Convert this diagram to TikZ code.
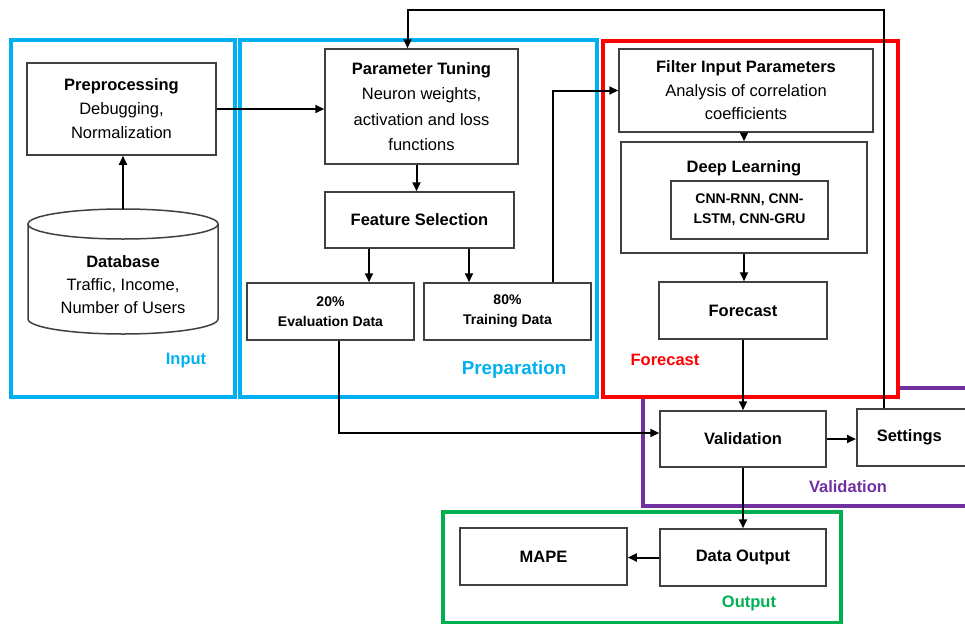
\documentclass[tikz,border=0pt]{standalone}
\usepackage{fontspec}
\setmainfont{Liberation Sans}
\usetikzlibrary{calc, positioning, arrows.meta}

\definecolor{inputblue}{RGB}{0,176,240}
\definecolor{forecastred}{RGB}{255,0,0}
\definecolor{validpurple}{RGB}{112,48,160}
\definecolor{outputgreen}{RGB}{0,176,80}
\definecolor{boxgrey}{RGB}{64,64,64}

\tikzset{
	block/.style = {draw = boxgrey, line width = 1.5pt, align = center, font = \fontsize{16.5}{24}\selectfont},
	smallblock/.style = {block, font = \fontsize{14}{20}\selectfont\bfseries},
	frame/.style = {line width = 3.2pt},
	stage/.style = {font = \fontsize{16.5}{20}\selectfont\bfseries},
	flow/.style = {line width = 2pt, -{Triangle[length = 9pt, width = 8pt]}},
}

\begin{document}
\begin{tikzpicture}[x = 1pt, y = -1pt]
		\path[use as bounding box, clip] (0,0) rectangle (965,624);
		
		% stage frames
		\draw[frame, validpurple] (643,397) |- (990,506);
		\draw[frame, validpurple] (898,388) -- (990,388);
		\draw[frame, inputblue] (11,40) rectangle (235,397);
		\draw[frame, inputblue] (240,40) rectangle (597,397);
		\draw[frame, forecastred] (603,41) rectangle (898,397);
		\draw[frame, outputgreen] (443,512) rectangle (841,622.5);
		
		\node[stage, inputblue] (input label) at (186,361) {Input};
		\node[stage, inputblue, font = \fontsize{18.8}{22}\selectfont\bfseries] (preparation label) at (514,370) {Preparation};
		\node[stage, forecastred] (forecast label) at (665,360) {Forecast};
		\node[stage, validpurple] (validation label) at (848,487) {Validation};
		\node[stage, outputgreen] (output label) at (749,603) {Output};
		
		% input
		\coordinate (db top) at (123,209);
		\draw[boxgrey, line width = 1.5pt] (123,224) ellipse [x radius = 95, y radius = 15];
		\draw[boxgrey, line width = 1.5pt] (28,224) -- (28,319) arc [start angle = 180, end angle = 0, x radius = 95, y radius = 15] -- (218,224);
		\node[align = center, font = \fontsize{16.5}{23}\selectfont] (db) at (123,285) {\textbf{Database}\\Traffic, Income,\\Number of Users};
		\node[block, minimum width = 189pt, minimum height = 92pt] (pre) at (121.5,109) {\textbf{Preprocessing}\\Debugging,\\Normalization};
		
		% preparation
		\node[block, minimum width = 193pt, minimum height = 115pt, font = \fontsize{16.5}{25.5}\selectfont] (pt) at (421.5,106.5) {\textbf{Parameter Tuning}\\Neuron weights,\\activation and loss\\functions};
		\node[block, minimum width = 189pt, minimum height = 56pt] (fs) at (419.5,220) {\textbf{Feature Selection}};
		\node[smallblock, minimum width = 167pt, minimum height = 57pt] (eval) at (330.5,311.5) {20\%\\Evaluation Data};
		\node[smallblock, minimum width = 167pt, minimum height = 57pt] (train) at (507.5,311.5) {80\%\\Training Data};
		
		% forecast
		\node[block, minimum width = 254pt, minimum height = 83pt, font = \fontsize{16.5}{23.5}\selectfont] (filter) at (746,90.5) {\textbf{Filter Input Parameters}\\Analysis of correlation\\coefficients};
		\node[block, minimum width = 246pt, minimum height = 111pt] (dl) at (744,197.5) {};
		\node[font = \fontsize{16.5}{20}\selectfont\bfseries] (dl title) at (744,168) {Deep Learning};
		\node[smallblock, minimum width = 157pt, minimum height = 58pt] (cnn) at (749.5,210) {CNN-RNN, CNN-\\LSTM, CNN-GRU};
		\node[block, minimum width = 168pt, minimum height = 57pt] (fc) at (743,310.5) {\textbf{Forecast}};
		
		% validation and output
		\node[block, minimum width = 166pt, minimum height = 56pt] (val) at (743,439) {\textbf{Validation}};
		\node[block, anchor = west, text width = 100pt, align = left, inner xsep = 20pt, minimum height = 57pt] (settings) at (856,437.5) {\textbf{Settings}};
		\node[block, minimum width = 166pt, minimum height = 57pt] (out) at (743,557.5) {\textbf{Data Output}};
		\node[block, minimum width = 167pt, minimum height = 57pt] (mape) at (543.5,556.5) {\textbf{MAPE}};
		
		% connectors
		\draw[flow] (db top) -- (db top |- pre.south);
		\draw[flow] (pre.east) -- (pre.east -| pt.west);
		\draw[flow] ([xshift = -5pt]pt.south) -- ([xshift = -5pt]pt.south |- fs.north);
		\draw[flow] ([xshift = -50.5pt]fs.south) -- ([xshift = -50.5pt]fs.south |- eval.north);
		\draw[flow] ([xshift = 49.5pt]fs.south) -- ([xshift = 49.5pt]fs.south |- train.north);
		\draw[flow] ([xshift = 45.5pt]train.north) |- (filter.west);
		\draw[flow] (filter.south -| dl.north) -- (dl.north);
		\draw[flow] (dl.south) -- (dl.south |- fc.north);
		\draw[flow] (fc.south) -- (val.north);
		\draw[flow] ([xshift = 8.5pt]eval.south) |- ([yshift = 6pt]val.west);
		\draw[flow] (val.east) -- (val.east -| settings.west);
		\draw[flow] (val.south) -- (out.north);
		\draw[flow] (out.west) -- (out.west -| mape.east);
		
		% feedback from settings
		\coordinate (loop top) at (884,9.5);
		\draw[flow] (settings.north -| loop top) -- (loop top) -| ([xshift = -14pt]pt.north);
	\end{tikzpicture}
\end{document}
